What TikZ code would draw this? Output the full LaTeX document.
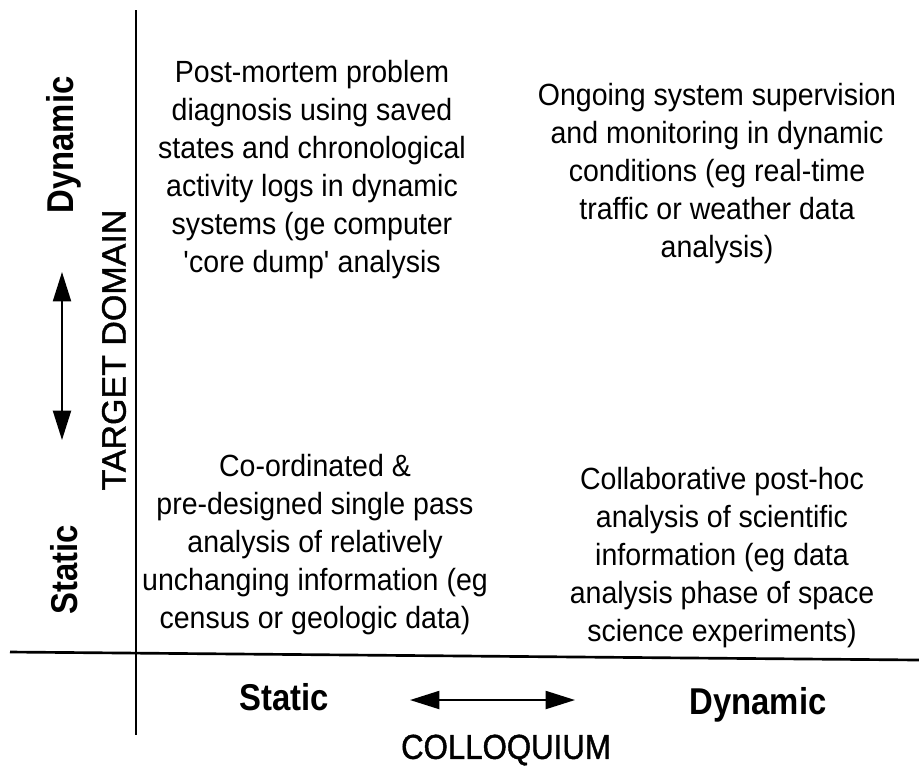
\documentclass[tikz,border=0pt]{standalone}
\usepackage{fontspec}
\setmainfont{Liberation Sans}
\newfontfamily\bodyfont[FakeStretch=0.93]{Liberation Sans}
\newfontfamily\labfont[FakeStretch=0.88]{Liberation Sans}
\newfontfamily\ttlfont[FakeBold=1.2,FakeStretch=0.9]{Liberation Sans}
\newfontfamily\axfont[FakeBold=1.2]{Liberation Sans}
\usetikzlibrary{arrows.meta,positioning}

\begin{document}
\begin{tikzpicture}[x=0.75pt,y=-0.75pt,
  txt/.style={align=center,inner sep=0pt,font=\bodyfont\fontsize{23}{28.5}\selectfont},
  lab/.style={inner sep=0pt,font=\labfont\fontsize{28}{30}\selectfont\bfseries},
  ttl/.style={inner sep=0pt,font=\ttlfont\fontsize{26}{30}\selectfont},
  dbl/.style={{Triangle[length=22pt,width=13.5pt]}-{Triangle[length=22pt,width=13.5pt]},line width=1.5pt}]
  \useasboundingbox (0,0) rectangle (919,769);
  \coordinate (v1) at (136,10);
  \coordinate (v2) at (136,735);
  \coordinate (h1) at (10,652);
  \coordinate (h2) at (919,660);
  \draw[line width=1.5pt] (v1) -- (v2);
  \draw[line width=2pt] (h1) -- (h2);

  \node[txt] (q1) at (312,170) {Post-mortem problem\\diagnosis using saved\\states and chronological\\activity logs in dynamic\\systems (ge computer\\\textquotesingle core dump\textquotesingle{} analysis};
  \node[txt] (q2) at (717,174) {Ongoing system supervision\\and monitoring in dynamic\\conditions (eg real-time\\traffic or weather data\\analysis)};
  \node[txt] (q3) at (315,545) {Co-ordinated \&\\pre-designed single pass\\analysis of relatively\\unchanging information (eg\\census or geologic data)};
  \node[txt] (q4) at (722,558) {Collaborative post-hoc\\analysis of scientific\\information (eg data\\analysis phase of space\\science experiments)};

  \node[lab,rotate=90] (ly2) at (64,145) {Dynamic};
  \node[lab,rotate=90] (ly1) at (64,570) {Static};
  \node[ttl,rotate=90,font=\axfont\fontsize{25.5}{30}\selectfont] (ly) at (114,350) {TARGET DOMAIN};
  \coordinate (ya) at (62,440);
  \coordinate (yb) at (62,272);
  \draw[dbl] (ya) -- (yb);

  \node[lab] (lx1) at (284,697) {Static};
  \node[lab] (lx2) at (758,705) {Dynamic};
  \node[ttl] (lx) at (506,750) {COLLOQUIUM};
  \coordinate (xa) at (410,700);
  \coordinate (xb) at (575,700);
  \draw[dbl] (xa) -- (xb);
\end{tikzpicture}
\end{document}
